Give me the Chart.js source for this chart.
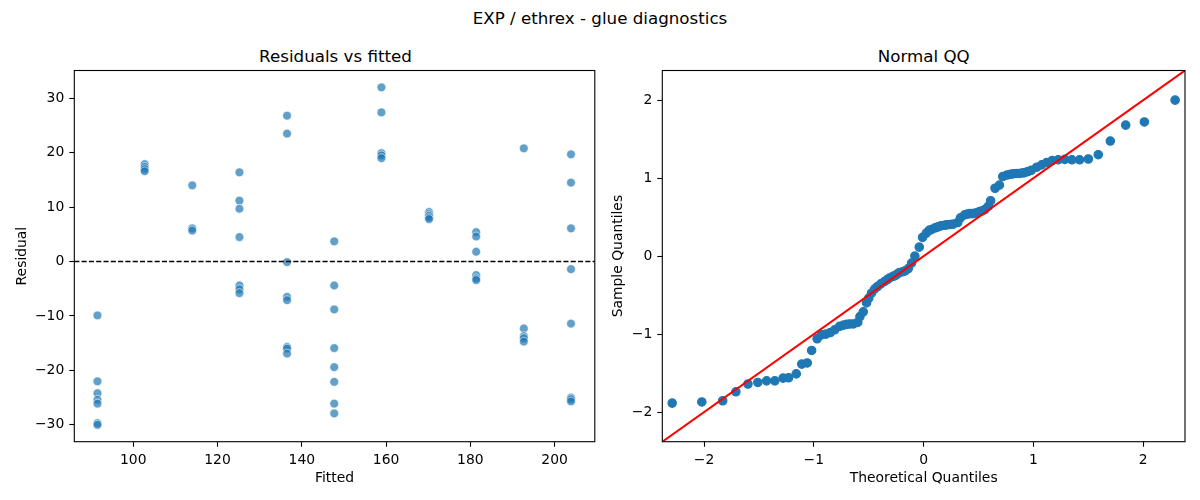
<!DOCTYPE html>
<html>
<head>
<meta charset="utf-8">
<script src="https://cdn.jsdelivr.net/npm/chart.js@4.4.1/dist/chart.umd.min.js"></script>
<style>
  html, body { margin: 0; padding: 0; background: #ffffff; }
  #wrap { position: relative; width: 1200px; height: 500px; overflow: hidden; background: #fff; }
  canvas { position: absolute; top: 0; }
  .ttl { position: absolute; font-family: 'DejaVu Sans', sans-serif; font-size: 16.7px; line-height: 20px;
         color: #000; white-space: nowrap; transform: translateX(-50%); }
</style>
</head>
<body>
<div id="wrap">
  <div class="ttl" style="left:600px; top:8px;">EXP / ethrex - glue diagnostics</div>
  <div class="ttl" style="left:335.5px; top:46.4px;">Residuals vs fitted</div>
  <div class="ttl" style="left:923.7px; top:46.4px;">Normal QQ</div>
  <canvas id="c1" width="600" height="500" style="left:0px; width:600px; height:500px;"></canvas>
  <canvas id="c2" width="600" height="500" style="left:600px; width:600px; height:500px;"></canvas>
</div>
<script>
// ---------- data ----------
const fittedLevels = [91.5, 102.7, 114.0, 125.2, 136.5, 147.7, 158.9, 170.2, 181.4, 192.7, 203.9];
const residualsByLevel = [
  [-9.9, -22.0, -24.2, -25.4, -26.1, -29.7, -30.0],
  [17.9, 17.4, 17.0, 16.6],
  [14.0, 6.1, 5.7],
  [16.4, 11.2, 9.7, 4.5, -4.4, -5.1, -5.8],
  [26.8, 23.5, -0.1, -6.5, -7.1, -15.7, -16.0, -16.9],
  [3.7, -4.4, -8.8, -15.9, -19.4, -22.1, -26.1, -27.9],
  [32.0, 27.4, 19.9, 19.5, 19.0],
  [9.1, 8.7, 8.4, 8.1, 7.8],
  [5.4, 4.6, 1.8, -2.5, -3.1, -3.4],
  [20.8, -12.3, -13.7, -14.1, -14.7],
  [19.7, 14.5, 6.1, -1.4, -11.4, -25.0, -25.3, -25.7]
];
const residXTicks = [100, 120, 140, 160, 180, 200];
const residYTicks = [-30, -20, -10, 0, 10, 20, 30];
const residXRange = [86.0, 209.55];
const residYRange = [-33.1, 35.1];
const zeroLevel = 0;

const qqTheoretical = [
  -2.29, -2.02, -1.83, -1.71, -1.60, -1.51, -1.43, -1.355, -1.28, -1.23,
  -1.16, -1.11, -1.06, -1.02, -0.97, -0.93, -0.89, -0.85, -0.81, -0.765,
  -0.73, -0.70, -0.67, -0.64, -0.60, -0.58, -0.55, -0.52, -0.50, -0.475,
  -0.445, -0.42, -0.39, -0.355, -0.33, -0.31, -0.28, -0.26, -0.24, -0.22,
  -0.19, -0.17, -0.14, -0.11, -0.08, -0.04, -0.01, 0.025, 0.05, 0.07,
  0.10, 0.12, 0.14, 0.16, 0.19, 0.21, 0.24, 0.27, 0.31, 0.335,
  0.375, 0.40, 0.42, 0.445, 0.465, 0.49, 0.51, 0.535, 0.56, 0.59,
  0.61, 0.65, 0.69, 0.72, 0.76, 0.79, 0.815, 0.845, 0.87, 0.895,
  0.92, 0.95, 0.98, 1.03, 1.075, 1.12, 1.17, 1.225, 1.285, 1.35,
  1.42, 1.50, 1.59, 1.70, 1.84, 2.01, 2.29
];
const qqSample = [
  -1.885, -1.87, -1.855, -1.74, -1.64, -1.62, -1.60, -1.60, -1.565, -1.56,
  -1.51, -1.385, -1.37, -1.21, -1.06, -1.01, -1.00, -0.98, -0.945, -0.90,
  -0.885, -0.875, -0.87, -0.87, -0.85, -0.775, -0.715, -0.60, -0.54, -0.475,
  -0.42, -0.39, -0.355, -0.325, -0.30, -0.28, -0.26, -0.25, -0.23, -0.21,
  -0.20, -0.19, -0.16, -0.09, 0.0, 0.115, 0.24, 0.295, 0.33, 0.34,
  0.36, 0.37, 0.38, 0.39, 0.395, 0.40, 0.405, 0.41, 0.43, 0.49,
  0.53, 0.54, 0.545, 0.545, 0.55, 0.56, 0.57, 0.58, 0.60, 0.64,
  0.71, 0.87, 0.91, 1.02, 1.04, 1.05, 1.055, 1.06, 1.06, 1.065,
  1.07, 1.085, 1.10, 1.14, 1.17, 1.20, 1.225, 1.235, 1.24, 1.235,
  1.235, 1.245, 1.30, 1.475, 1.68, 1.72, 2.0
];
const qqTicks = [-2, -1, 0, 1, 2];
const qqRange = [-2.38, 2.38];

// ---------- build ----------
const residPoints = [];
fittedLevels.forEach((f, i) => residualsByLevel[i].forEach(r => residPoints.push({x: f, y: r})));
const qqPoints = qqTheoretical.map((t, i) => ({x: t, y: qqSample[i]}));
const zeroLinePts = residXRange.map(x => ({x: x, y: zeroLevel}));
const refLinePts = qqRange.map(v => ({x: v, y: v}));

Chart.defaults.font.family = "'DejaVu Sans', sans-serif";
Chart.defaults.font.size = 13.9;
Chart.defaults.color = '#000';

const fmt = v => String(v).replace('-', '\u2212');

const frame = {
  id: 'frame',
  afterDatasetsDraw(chart) {
    const a = chart.chartArea, ctx = chart.ctx;
    ctx.save();
    ctx.strokeStyle = '#000';
    ctx.lineWidth = 1.1;
    ctx.strokeRect(a.left, a.top, a.right - a.left, a.bottom - a.top);
    ctx.restore();
  }
};

function axis(range, ticks, title, isY, fitSize, titlePad) {
  return {
    type: 'linear',
    position: isY ? 'left' : 'bottom',
    min: range[0], max: range[1],
    afterBuildTicks: s => { s.ticks = ticks.map(v => ({value: v})); },
    afterFit: s => { if (isY) s.width = fitSize; else s.height = fitSize; },
    grid: { display: true, drawOnChartArea: false, drawTicks: true, tickLength: 5, tickColor: '#000', tickWidth: 1.1 },
    border: { display: false },
    ticks: { padding: 5, color: '#000', font: { size: 13.9 }, callback: v => fmt(v), autoSkip: false, maxRotation: 0 },
    title: { display: true, text: title, color: '#000', font: { size: 13.9 },
             padding: isY ? { top: titlePad, bottom: 0 } : { top: 0, bottom: titlePad } }
  };
}

new Chart(document.getElementById('c1'), {
  type: 'scatter',
  data: {
    datasets: [
      { type: 'line', data: zeroLinePts, borderColor: '#000', borderWidth: 1.39, borderDash: [5.1, 2.2],
        pointRadius: 0, fill: false },
      { data: residPoints, backgroundColor: 'rgba(31,119,180,0.7)', borderColor: 'rgba(255,255,255,0.75)',
        borderWidth: 0.8, pointRadius: 4.4 }
    ]
  },
  options: {
    responsive: false, animation: false, devicePixelRatio: 1,
    layout: { padding: { left: 0, right: 3.3, top: 70.5, bottom: 0 } },
    plugins: { legend: { display: false }, tooltip: { enabled: false }, title: { display: false } },
    scales: {
      x: axis(residXRange, residXTicks, 'Fitted', false, 58.3, 13.7),
      y: axis(residYRange, residYTicks, 'Residual', true, 74.3, 13.6)
    }
  },
  plugins: [frame]
});

new Chart(document.getElementById('c2'), {
  type: 'scatter',
  data: {
    datasets: [
      { type: 'line', data: refLinePts, borderColor: '#ff0000', borderWidth: 2.1, pointRadius: 0, fill: false },
      { data: qqPoints, backgroundColor: '#1f77b4', borderColor: '#1f77b4', borderWidth: 1.2, pointRadius: 4.2 }
    ]
  },
  options: {
    responsive: false, animation: false, devicePixelRatio: 1,
    layout: { padding: { left: 0, right: 15, top: 70.5, bottom: 0 } },
    plugins: { legend: { display: false }, tooltip: { enabled: false }, title: { display: false } },
    scales: {
      x: axis(qqRange, qqTicks, 'Theoretical Quantiles', false, 58.3, 13.7),
      y: axis(qqRange, qqTicks, 'Sample Quantiles', true, 62.3, 9.6)
    }
  },
  plugins: [frame]
});
</script>
</body>
</html>
